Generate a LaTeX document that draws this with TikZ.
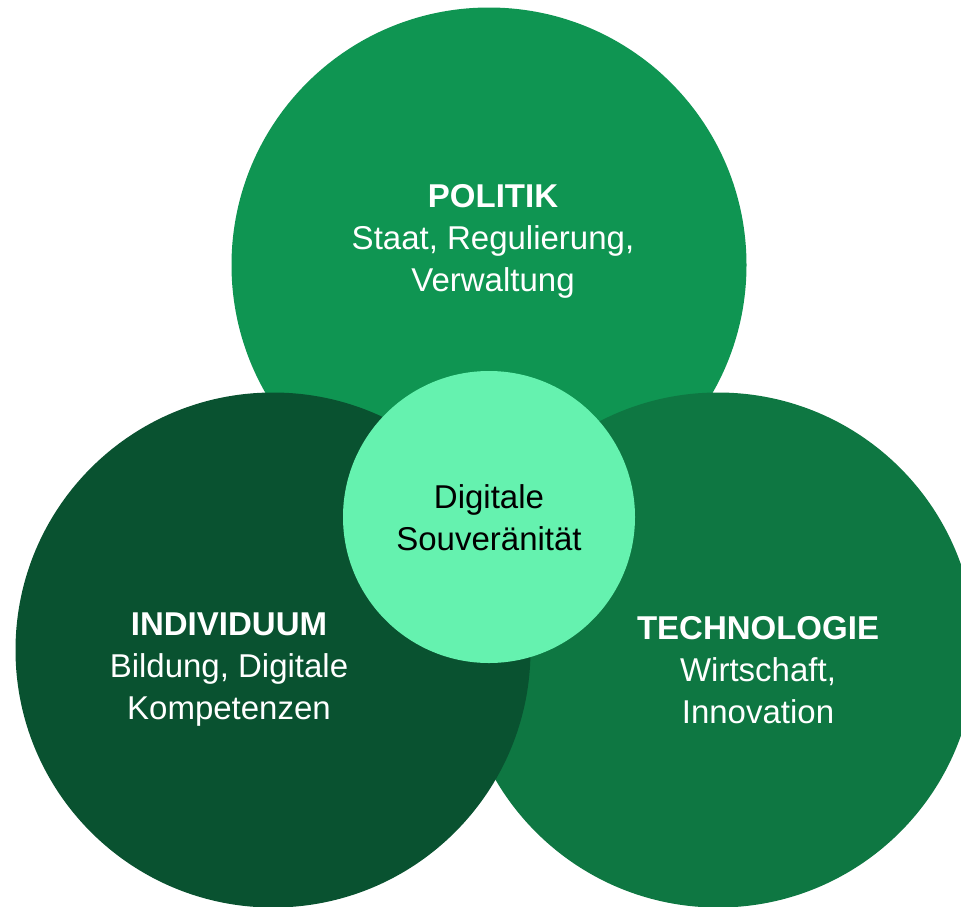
\documentclass[tikz,border=0pt]{standalone}
\usepackage{fontspec}
\setmainfont{Liberation Sans}
\definecolor{politikgreen}{HTML}{0F9552}
\definecolor{individuumgreen}{HTML}{095230}
\definecolor{technologiegreen}{HTML}{0E7742}
\definecolor{kerngreen}{HTML}{65F2AF}
\tikzset{
	bigcircle/.style={circle, minimum size=515pt, inner sep=0pt},
	corecircle/.style={circle, minimum size=292pt, inner sep=0pt, fill=kerngreen},
	circlelabel/.style={align=center, inner sep=0pt, text=white,
		font=\fontsize{33pt}{42pt}\selectfont}
}
\begin{document}
\begin{tikzpicture}[x=1pt,y=-1pt]
	\useasboundingbox (0,0) rectangle (961,906);
	\clip (0,0) rectangle (961,906);
	\node[bigcircle, fill=politikgreen] (politik) at (489,265) {};
	\node[bigcircle, fill=technologiegreen] (technologie) at (718,650) {};
	\node[bigcircle, fill=individuumgreen] (individuum) at (273,650) {};
	\node[corecircle] (kern) at (489,517) {};
	% Beschriftungen
	\node[circlelabel] (politiktext) at (493,241)
		{\textbf{POLITIK}\\Staat, Regulierung,\\Verwaltung};
	\node[circlelabel] (individuumtext) at (229,670)
		{\textbf{INDIVIDUUM}\\Bildung, Digitale\\Kompetenzen};
	\node[circlelabel] (technologietext) at (758,670)
		{\textbf{TECHNOLOGIE}\\Wirtschaft,\\Innovation};
	\node[circlelabel, text=black] (kerntext) at (489,518)
		{Digitale\\Souveränität};
\end{tikzpicture}
\end{document}
